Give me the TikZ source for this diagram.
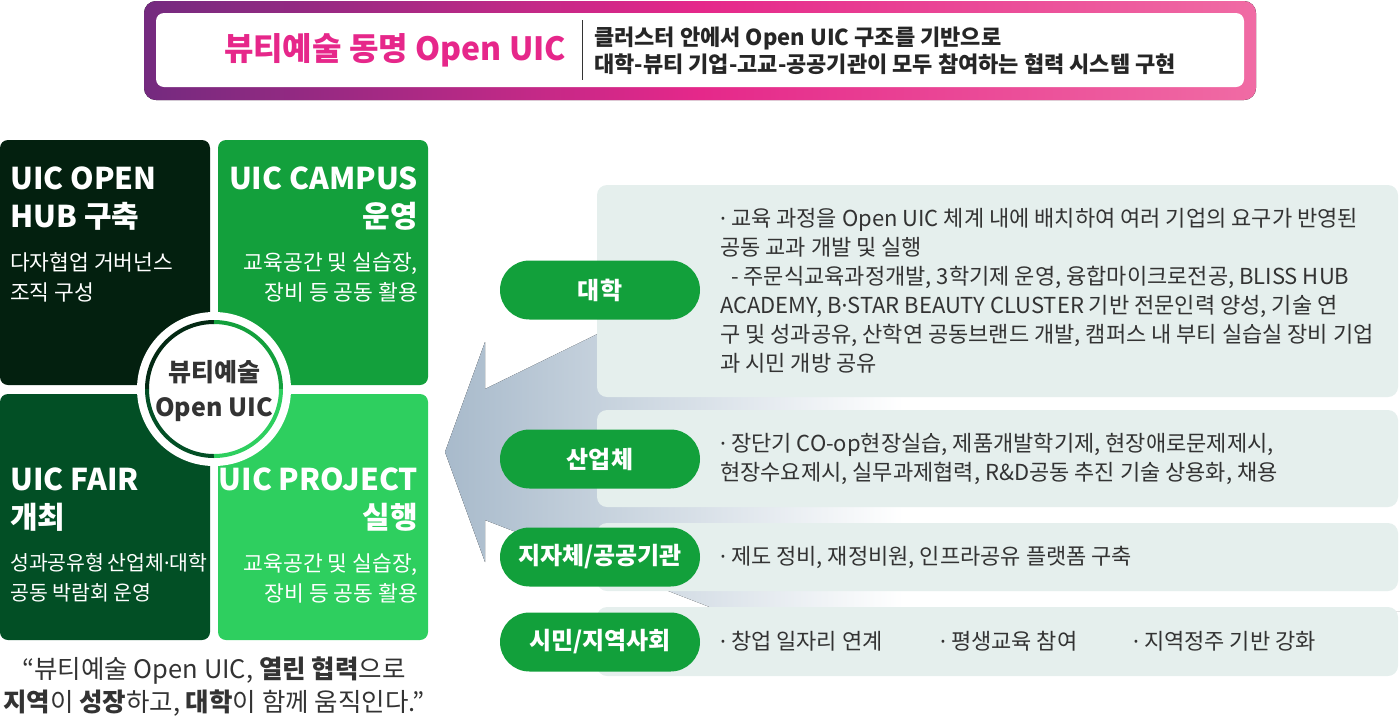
\documentclass[tikz,border=0pt]{standalone}
\usepackage{fontspec}
\setmainfont{Noto Sans CJK KR}
\newfontfamily\dotfont{Noto Sans}
\newcommand{\ptdot}{{\dotfont ·}}
\usepackage{xcolor}
\usetikzlibrary{positioning}
\definecolor{hubdark}{HTML}{03200F}
\definecolor{campusgreen}{HTML}{13A03C}
\definecolor{fairgreen}{HTML}{024F25}
\definecolor{projectgreen}{HTML}{2ECF5F}
\definecolor{pillgreen}{HTML}{12A03B}
\definecolor{panelgray}{HTML}{E5EFED}
\definecolor{titlepink}{HTML}{E6278A}
\definecolor{bannerpurple}{HTML}{742A7F}
\definecolor{bannerpink}{HTML}{E5288A}
\definecolor{bannerlight}{HTML}{F06BA4}
\definecolor{arrowgray}{HTML}{A8BACB}
\definecolor{textgray}{HTML}{333333}
\pgfdeclarehorizontalshading{arrowfade}{100bp}{color(0bp)=(arrowgray); color(25bp)=(arrowgray); color(49bp)=(white); color(100bp)=(white)}

\begin{document}
\begin{tikzpicture}[x=1pt, y=-1pt,
  quad/.style={rounded corners=8pt},
  qtitle/.style={text=white, font=\bfseries\fontsize{30}{38}\selectfont, inner sep=0pt},
  qsub/.style={text=white, font=\fontsize{21.5}{30}\selectfont, inner sep=0pt},
  panel/.style={fill=panelgray, rounded corners=10pt},
  pill/.style={fill=pillgreen, text=white, rounded corners=29.5pt, minimum width=200pt, minimum height=59pt, font=\bfseries\fontsize{24}{28}\selectfont},
  item/.style={text=textgray, font=\fontsize{22}{29}\selectfont, align=left, anchor=west, inner sep=0pt}
]
  \useasboundingbox (0,0) rectangle (1400,721);

  % banner
  \fill[rounded corners=12pt, left color=bannerpurple, right color=bannerlight, middle color=bannerpink] (144,1) rectangle (1256,100);
  \fill[white, rounded corners=8pt] (156,13) rectangle (1244,87);
  \node[font=\bfseries\fontsize{32}{36}\selectfont, text=titlepink] (bannertitle) at (395,50) {뷰티예술 동명 Open UIC};
  \coordinate (divtop) at (582,20);
  \coordinate (divbot) at (582,80);
  \draw[textgray, line width=1pt] (divtop) -- (divbot);
  \node[anchor=west, align=left, inner sep=0pt, text=black!85, font=\bfseries\fontsize{22}{27}\selectfont] (bannertext) at (594,51) {클러스터 안에서 Open UIC 구조를 기반으로\\대학-뷰티 기업-고교-공공기관이 모두 참여하는 협력 시스템 구현};

  % four blocks
  \fill[hubdark, quad] (0,140) rectangle (210,385);
  \fill[campusgreen, quad] (218,140) rectangle (428,385);
  \fill[fairgreen, quad] (0,394) rectangle (210,640);
  \fill[projectgreen, quad] (218,394) rectangle (428,640);

  \node[qtitle, align=left, anchor=west] (hubtitle) at (10,199) {UIC OPEN\\HUB 구축};
  \node[qsub, align=left, anchor=west] (hubsub) at (10,277) {다자협업 거버넌스\\조직 구성};
  \node[qtitle, align=right, anchor=east] (campustitle) at (418,199) {UIC CAMPUS\\운영};
  \node[qsub, align=right, anchor=east] (campussub) at (418,277) {교육공간 및 실습장,\\장비 등 공동 활용};
  \node[qtitle, align=left, anchor=west] (fairtitle) at (10,500) {UIC FAIR\\개최};
  \node[qsub, align=left, anchor=west, font=\fontsize{20.5}{30}\selectfont] (fairsub) at (10,578) {성과공유형\hspace{0.15em}산업체\ptdot 대학\\공동 박람회 운영};
  \node[qtitle, align=right, anchor=east] (projecttitle) at (418,500) {UIC PROJECT\\실행};
  \node[qsub, align=right, anchor=east] (projectsub) at (418,578) {교육공간 및 실습장,\\장비 등 공동 활용};

  % center badge
  \coordinate (hub) at (214,389);
  \fill[white] (hub) circle[radius=77pt];
  \draw[hubdark!80!fairgreen, line width=4pt] (hub) ++(90:67pt) arc[start angle=90, end angle=180, radius=67pt];
  \draw[campusgreen, line width=4pt] (hub) ++(0:67pt) arc[start angle=0, end angle=90, radius=67pt];
  \draw[fairgreen, line width=4pt] (hub) ++(180:67pt) arc[start angle=180, end angle=270, radius=67pt];
  \draw[projectgreen, line width=4pt] (hub) ++(270:67pt) arc[start angle=270, end angle=360, radius=67pt];
  \node[align=center, text=textgray, font=\bfseries\fontsize{25}{35}\selectfont, inner sep=0pt] (badge) at (214,391) {뷰티예술\\Open UIC};

  % motto
  \node[align=center, text=textgray, font=\fontsize{25.5}{33}\selectfont, inner sep=0pt] (motto) at (214,687) {“뷰티예술 Open UIC, \textbf{열린 협력}으로\\\textbf{지역}이 \textbf{성장}하고, \textbf{대학}이 함께 움직인다.”};

  % arrow
  \fill[shading=arrowfade] (445,452) -- (485,342) -- (485,389) -- (620,323) -- (1400,323) -- (1400,611) -- (720,611) -- (485,520) -- (485,562) -- cycle;

  % panels
  \fill[panel] (597,185) rectangle (1398,397);
  \fill[panel] (597,410) rectangle (1398,507);
  \fill[panel] (597,523) rectangle (1398,591);
  \fill[panel] (597,607) rectangle (1398,676);

  \node[pill] (univ) at (600,290) {대학};
  \node[pill] (industry) at (600,459) {산업체};
  \node[pill] (gov) at (600,557) {지자체/공공기관};
  \node[pill] (citizen) at (600,642) {시민/지역사회};

  \node[item] (univtext) at (720,291) {\ptdot{} 교육 과정을 Open UIC 체계 내에 배치하여 여러 기업의 요구가 반영된\\공동 교과 개발 및 실행\\\hspace*{0.5em}- 주문식교육과정개발, 3학기제 운영, 융합마이크로전공, BLISS HUB\\ACADEMY, B\ptdot STAR BEAUTY CLUSTER 기반 전문인력 양성, 기술 연\\구 및 성과공유, 산학연 공동브랜드 개발, 캠퍼스 내 부티 실습실 장비 기업\\과 시민 개방 공유};
  \node[item] (industrytext) at (720,459) {\ptdot{} 장단기 CO-op현장실습, 제품개발학기제, 현장애로문제제시,\\현장수요제시, 실무과제협력, R\&D공동 추진 기술 상용화, 채용};
  \node[item] (govtext) at (720,557) {\ptdot{} 제도 정비, 재정비원, 인프라공유 플랫폼 구축};
  \foreach \x/\t [count=\i] in {720/창업 일자리 연계, 940/평생교육 참여, 1133/지역정주 기반 강화}
    \node[item] (citizentext\i) at (\x,641) {\ptdot{} \t};
\end{tikzpicture}
\end{document}
